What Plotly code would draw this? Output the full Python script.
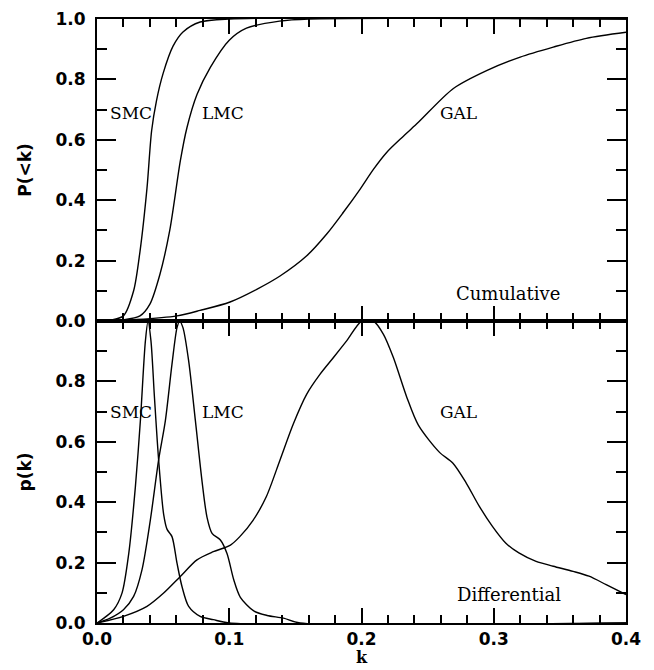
import plotly.graph_objects as go

# ---- Cumulative distributions P(<k) ----
k_smc_cum = [0.0, 0.010, 0.020, 0.0277, 0.0325, 0.0378, 0.0413, 0.045, 0.050, 0.0575, 0.065, 0.078, 0.100, 0.40]
p_smc_cum = [0.0, 0.003, 0.017, 0.10, 0.23, 0.44, 0.63, 0.73, 0.82, 0.91, 0.957, 0.99, 1.0, 1.0]

k_lmc_cum = [0.0, 0.020, 0.0325, 0.040, 0.0476, 0.055, 0.063, 0.068, 0.0756, 0.0857, 0.100, 0.113, 0.138, 0.160, 0.40]
p_lmc_cum = [0.0, 0.004, 0.017, 0.056, 0.155, 0.30, 0.53, 0.64, 0.75, 0.84, 0.93, 0.97, 0.993, 1.0, 1.0]

k_gal_cum = [0.0, 0.030, 0.0605, 0.0779, 0.1006, 0.1208, 0.1384, 0.1586, 0.1737, 0.1863, 0.199, 0.209, 0.219, 0.2317, 0.243, 0.2695, 0.295, 0.320, 0.345, 0.370, 0.400]
p_gal_cum = [0.0, 0.005, 0.017, 0.035, 0.063, 0.105, 0.149, 0.216, 0.288, 0.36, 0.437, 0.502, 0.558, 0.612, 0.658, 0.77, 0.83, 0.874, 0.907, 0.936, 0.956]

# ---- Differential distributions p(k) ----
k_smc_dif = [0.0, 0.0126, 0.0189, 0.024, 0.029, 0.0328, 0.0366, 0.0386, 0.0408, 0.0434, 0.0466, 0.0504, 0.053, 0.0567, 0.0605, 0.0643, 0.0693, 0.078, 0.088, 0.100, 0.40]
p_smc_dif = [0.0, 0.044, 0.099, 0.23, 0.45, 0.67, 0.934, 1.0, 0.934, 0.75, 0.54, 0.36, 0.31, 0.286, 0.198, 0.12, 0.055, 0.022, 0.011, 0.0, 0.0]

k_lmc_dif = [0.0, 0.010, 0.020, 0.0277, 0.034, 0.0403, 0.0466, 0.0517, 0.0567, 0.0605, 0.0625, 0.065, 0.0693, 0.0744, 0.0794, 0.0832, 0.087, 0.0933, 0.0983, 0.1034, 0.1084, 0.1185, 0.1286, 0.141, 0.1536, 0.40]
p_lmc_dif = [0.0, 0.016, 0.044, 0.088, 0.176, 0.34, 0.54, 0.67, 0.857, 0.978, 1.0, 0.978, 0.868, 0.67, 0.47, 0.35, 0.297, 0.275, 0.23, 0.143, 0.085, 0.04, 0.025, 0.016, 0.0, 0.0]

k_gal_dif = [0.0, 0.020, 0.0378, 0.0504, 0.063, 0.0756, 0.088, 0.1009, 0.108, 0.118, 0.128, 0.1384, 0.1485, 0.1586, 0.1687, 0.1788, 0.1889, 0.2002, 0.209, 0.2166, 0.2241, 0.2343, 0.243, 0.259, 0.269, 0.279, 0.289, 0.299, 0.309, 0.319, 0.332, 0.345, 0.360, 0.372, 0.385, 0.400]
p_gal_dif = [0.0, 0.022, 0.055, 0.099, 0.154, 0.209, 0.236, 0.258, 0.286, 0.34, 0.418, 0.54, 0.66, 0.758, 0.824, 0.879, 0.935, 1.0, 1.0, 0.956, 0.879, 0.747, 0.655, 0.565, 0.53, 0.465, 0.387, 0.32, 0.265, 0.232, 0.204, 0.188, 0.171, 0.155, 0.127, 0.094]

# ---- Ticks ----
x_tickvals = [0.0, 0.1, 0.2, 0.3, 0.4]
x_ticktext = ["0.0", "0.1", "0.2", "0.3", "0.4"]
y_top_tickvals = [0.0, 0.2, 0.4, 0.6, 0.8, 1.0]
y_top_ticktext = ["0.0", "0.2", "0.4", "0.6", "0.8", "1.0"]
y_bot_tickvals = [0.0, 0.2, 0.4, 0.6, 0.8, 1.0]
y_bot_ticktext = ["0.0", "0.2", "0.4", "0.6", "0.8", ""]
x_major_step, x_minor_step = 0.1, 0.02
y_major_step, y_minor_step = 0.2, 0.1

fig = go.Figure()

line = dict(color="black", width=1.4, shape="spline", smoothing=0.8)
for kx, py in [(k_smc_cum, p_smc_cum), (k_lmc_cum, p_lmc_cum), (k_gal_cum, p_gal_cum)]:
    fig.add_trace(go.Scatter(x=kx, y=py, xaxis="x", yaxis="y", mode="lines", line=line,
                             showlegend=False, hoverinfo="skip"))
for kx, py in [(k_smc_dif, p_smc_dif), (k_lmc_dif, p_lmc_dif), (k_gal_dif, p_gal_dif)]:
    fig.add_trace(go.Scatter(x=kx, y=py, xaxis="x2", yaxis="y2", mode="lines", line=line,
                             showlegend=False, hoverinfo="skip"))
# empty traces that host the tick overlay axes (minor: 3,4; major: 5,6)
for n in (3, 4, 5, 6):
    fig.add_trace(go.Scatter(x=[None], y=[None], xaxis=f"x{n}", yaxis=f"y{n}",
                             showlegend=False, hoverinfo="skip"))

tickfont = dict(family="DejaVu Sans", size=17, color="black", weight="bold")
base = dict(showline=True, linecolor="black", linewidth=2, mirror="allticks",
            ticks="inside", tickcolor="black", tickwidth=2,
            showgrid=False, zeroline=False, automargin=False, fixedrange=True)
tick_base = dict(showline=False, mirror="allticks", ticks="inside", tickcolor="black", tickwidth=2,
                 showgrid=False, zeroline=False, automargin=False, showticklabels=False,
                 tickmode="linear", tick0=0, fixedrange=True)

top_dom = [0.5, 1.0]
bot_dom = [0.0, 0.5]
title_font = dict(family="DejaVu Sans", size=17, color="black")

fig.update_layout(
    xaxis=dict(base, domain=[0, 1], anchor="y", range=[0, 0.4], tickmode="array",
               tickvals=x_tickvals, ticklen=15, showticklabels=False),
    yaxis=dict(base, domain=top_dom, anchor="x", range=[0, 1.0], tickmode="array",
               tickvals=y_top_tickvals, ticktext=y_top_ticktext, ticklen=19, tickfont=tickfont,
               ticklabelstandoff=6,
               title=dict(text="<b>P(&lt;k)</b>", font=title_font, standoff=20)),
    xaxis2=dict(base, domain=[0, 1], anchor="y2", range=[0, 0.4], tickmode="array",
                tickvals=x_tickvals, ticktext=x_ticktext, ticklen=15, tickfont=tickfont,
                ticklabelstandoff=0),
    yaxis2=dict(base, domain=bot_dom, anchor="x2", range=[0, 1.0], tickmode="array",
                tickvals=y_bot_tickvals, ticktext=y_bot_ticktext, ticklen=19, tickfont=tickfont,
                ticklabelstandoff=6,
                title=dict(text="<b>p(k)</b>", font=title_font, standoff=20)),
    # minor ticks
    xaxis3=dict(tick_base, overlaying="x", anchor="y3", range=[0, 0.4], dtick=x_minor_step, ticklen=8),
    yaxis3=dict(tick_base, overlaying="y", anchor="x3", range=[0, 1.0], dtick=y_minor_step, ticklen=10),
    xaxis4=dict(tick_base, overlaying="x2", anchor="y4", range=[0, 0.4], dtick=x_minor_step, ticklen=8),
    yaxis4=dict(tick_base, overlaying="y2", anchor="x4", range=[0, 1.0], dtick=y_minor_step, ticklen=10),
    # major ticks
    xaxis5=dict(tick_base, overlaying="x", anchor="y5", range=[0, 0.4], dtick=x_major_step, ticklen=15),
    yaxis5=dict(tick_base, overlaying="y", anchor="x5", range=[0, 1.0], dtick=y_major_step, ticklen=19),
    xaxis6=dict(tick_base, overlaying="x2", anchor="y6", range=[0, 0.4], dtick=x_major_step, ticklen=15),
    yaxis6=dict(tick_base, overlaying="y2", anchor="x6", range=[0, 1.0], dtick=y_major_step, ticklen=19),
)

name_font = dict(family="DejaVu Serif", size=17, color="black")
word_font = dict(family="DejaVu Serif", size=18, color="black")
labels = [
    ("x", "y", 0.0085, 0.69, "SMC", name_font),
    ("x", "y", 0.078, 0.69, "LMC", name_font),
    ("x", "y", 0.258, 0.69, "GAL", name_font),
    ("x", "y", 0.270, 0.09, "Cumulative", word_font),
    ("x2", "y2", 0.0085, 0.70, "SMC", name_font),
    ("x2", "y2", 0.078, 0.70, "LMC", name_font),
    ("x2", "y2", 0.258, 0.70, "GAL", name_font),
    ("x2", "y2", 0.271, 0.093, "Differential", word_font),
]
for xr, yr, xv, yv, t, f in labels:
    fig.add_annotation(x=xv, y=yv, xref=xr, yref=yr, text=t, showarrow=False,
                       xanchor="left", yanchor="middle", font=f)

fig.add_annotation(x=0.2, y=0, xref="x2", yref="paper", yshift=-34, text="<b>k</b>", showarrow=False,
                   xanchor="center", yanchor="middle", font=dict(family="DejaVu Serif", size=16, color="black"))

# page body has an 8px margin, so the figure is sized 8px smaller on each axis
fig.update_layout(width=646, height=662, margin=dict(l=89, r=28, t=11, b=47),
                  plot_bgcolor="white", paper_bgcolor="white")

fig.write_html("out.html")
